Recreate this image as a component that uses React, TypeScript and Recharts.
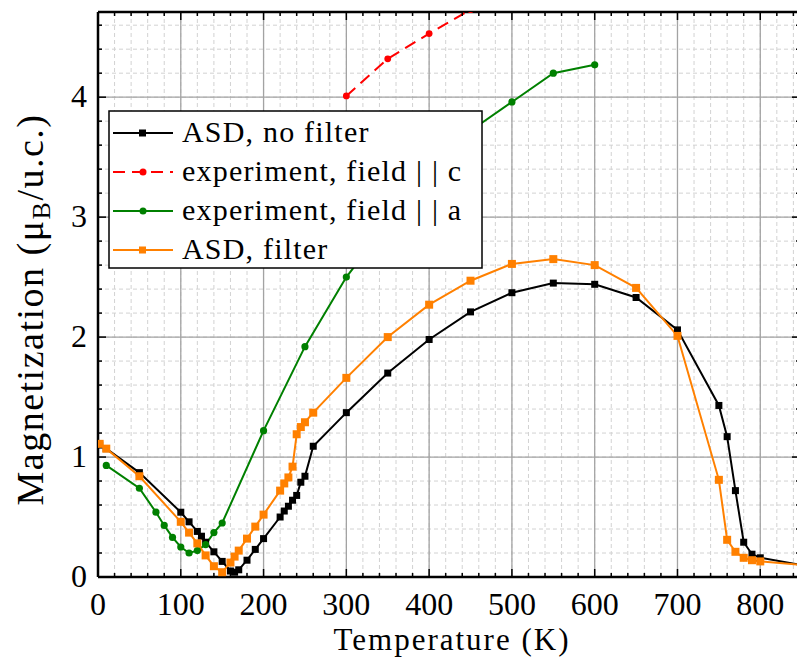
import { CartesianGrid, Line, LineChart, ReferenceLine, XAxis, YAxis } from "recharts";

// temperature (K) and magnetization (μB / u.c.) per series
const asdNoFilterT = [2, 10, 50, 100, 110, 120, 125, 130, 140, 150, 160, 165, 170, 180, 190, 200, 220, 225, 230, 235, 240, 245, 250, 260, 300, 350, 400, 450, 500, 550, 600, 650, 700, 750, 760, 770, 780, 790, 800, 850];
const asdNoFilterM = [1.1, 1.07, 0.87, 0.54, 0.46, 0.38, 0.34, 0.29, 0.21, 0.13, 0.05, 0.04, 0.06, 0.14, 0.23, 0.32, 0.5, 0.55, 0.59, 0.64, 0.68, 0.79, 0.84, 1.09, 1.37, 1.7, 1.98, 2.21, 2.37, 2.45, 2.44, 2.33, 2.06, 1.43, 1.17, 0.72, 0.29, 0.19, 0.16, 0.1];

const expCT = [300, 350, 400, 450];
const expCM = [4.01, 4.32, 4.53, 4.73];

const expAT = [10, 50, 70, 80, 90, 100, 110, 120, 130, 140, 150, 200, 250, 300, 350, 400, 450, 500, 550, 600];
const expAM = [0.93, 0.74, 0.54, 0.43, 0.33, 0.25, 0.2, 0.22, 0.27, 0.37, 0.45, 1.22, 1.92, 2.5, 2.95, 3.38, 3.72, 3.96, 4.2, 4.27];

const asdFilterT = [2, 10, 50, 100, 110, 120, 130, 140, 150, 160, 165, 170, 180, 190, 200, 220, 225, 230, 235, 240, 245, 250, 260, 300, 350, 400, 450, 500, 550, 600, 650, 700, 750, 760, 770, 780, 790, 800, 850];
const asdFilterM = [1.11, 1.07, 0.84, 0.46, 0.37, 0.28, 0.18, 0.09, 0.04, 0.12, 0.17, 0.22, 0.32, 0.42, 0.52, 0.72, 0.78, 0.83, 0.92, 1.19, 1.25, 1.29, 1.37, 1.66, 2.0, 2.27, 2.47, 2.61, 2.65, 2.6, 2.41, 2.01, 0.81, 0.31, 0.21, 0.16, 0.14, 0.13, 0.1];

const xTicks = [0, 100, 200, 300, 400, 500, 600, 700, 800];
const yTicks = [0, 1, 2, 3, 4];
const seriesNames = ["ASD, no filter", "experiment, field | | c", "experiment, field | | a", "ASD, filter"];

const X_MAX = 848;
const Y_MAX = 4.71;

const steps = (step: number, max: number) => {
  const out: number[] = [];
  for (let i = 0; i * step <= max + 1e-9; i++) out.push(+(i * step).toFixed(3));
  return out;
};
const xMinor = steps(20, X_MAX);
const yMinor = steps(0.2, Y_MAX);
const onStep = (v: number, step: number) => Math.abs(v / step - Math.round(v / step)) < 1e-6;

const pts = (t: number[], m: number[]) => t.map((v, i) => ({ t: v, m: m[i] }));

const SERIF = "Liberation Serif, serif";
const BLACK = "#000000";
const RED = "#ff0000";
const GREEN = "#008000";
const ORANGE = "#ff8000";

// layout
const CHART_W = 820;
const CHART_H = 668;
const MARGIN = { top: 12, right: 20, bottom: 31, left: 38 };
const PLOT_TOP = MARGIN.top;
const PLOT_RIGHT = CHART_W - MARGIN.right;
const TICK_SIZE = 6;
const TICK_MARGIN = 4;

const square = (size: number, fill: string) => (p: any) =>
  p.cx == null ? <g key={p.index} /> : (
    <rect key={p.index} x={p.cx - size / 2} y={p.cy - size / 2} width={size} height={size} fill={fill} />
  );
const circle = (r: number, fill: string) => (p: any) =>
  p.cx == null ? <g key={p.index} /> : <circle key={p.index} cx={p.cx} cy={p.cy} r={r} fill={fill} />;

// ticks drawn inward on all four sides, labels only on major values
const XTick = (p: any) => {
  const v = p.payload.value;
  const major = onStep(v, 100);
  const len = major ? 8 : 4;
  const axisY = p.y - TICK_SIZE - TICK_MARGIN;
  return (
    <g>
      <line x1={p.x} x2={p.x} y1={axisY} y2={axisY - len} stroke="#000" strokeWidth={1.5} />
      <line x1={p.x} x2={p.x} y1={PLOT_TOP} y2={PLOT_TOP + len} stroke="#000" strokeWidth={1.5} />
      {major && (
        <text x={p.x} y={axisY + 38} textAnchor="middle" fontFamily={SERIF} fontSize={32} fill="#000">
          {v}
        </text>
      )}
    </g>
  );
};

const YTick = (p: any) => {
  const v = p.payload.value;
  const major = onStep(v, 1);
  const len = major ? 8 : 4;
  const axisX = p.x + TICK_SIZE + TICK_MARGIN;
  return (
    <g>
      <line x1={axisX} x2={axisX + len} y1={p.y} y2={p.y} stroke="#000" strokeWidth={1.5} />
      <line x1={PLOT_RIGHT} x2={PLOT_RIGHT - len} y1={p.y} y2={p.y} stroke="#000" strokeWidth={1.5} />
      {major && (
        <text x={axisX - 11} y={p.y + 9.5} textAnchor="end" fontFamily={SERIF} fontSize={32} fill="#000">
          {v}
        </text>
      )}
    </g>
  );
};

const XTitle = (props: any) => {
  const { x, y, width } = props.viewBox;
  return (
    <text x={x + width / 2 + 3} y={y + 73} textAnchor="middle" fontFamily={SERIF} fontSize={31} letterSpacing={2} fill="#000">
      Temperature (K)
    </text>
  );
};

const YTitle = (props: any) => {
  const { x, y, height } = props.viewBox;
  const cx = x + 5;
  const cy = y + height / 2 + 15;
  return (
    <text x={cx} y={cy} transform={`rotate(-90 ${cx} ${cy})`} textAnchor="middle" fontFamily={SERIF} fontSize={38} letterSpacing={1.5} fill="#000">
      Magnetization (μ<tspan dy={7} fontSize={26}>B</tspan><tspan dy={-7}>/u.c.)</tspan>
    </text>
  );
};

const legendRows = [
  { name: seriesNames[0], color: BLACK, dash: undefined, marker: "square" },
  { name: seriesNames[1], color: RED, dash: "12 7", marker: "circle" },
  { name: seriesNames[2], color: GREEN, dash: undefined, marker: "circle" },
  { name: seriesNames[3], color: ORANGE, dash: undefined, marker: "square" },
];

function ChartLegend() {
  return (
    <svg width={375} height={159} style={{ position: "absolute", left: 108, top: 110 }}>
      <rect x={1} y={1} width={373} height={157} fill="#fff" stroke="#000" strokeWidth={1.5} />
      {legendRows.map((r, i) => {
        const ly = 23 + i * 39;
        return (
          <g key={r.name}>
            <line x1={5} x2={65} y1={ly} y2={ly} stroke={r.color} strokeWidth={2} strokeDasharray={r.dash} />
            {r.marker === "square" ? (
              <rect x={31} y={ly - 3.5} width={7} height={7} fill={r.color} />
            ) : (
              <circle cx={35} cy={ly} r={3.5} fill={r.color} />
            )}
            <text x={74} y={ly + 9} fontFamily={SERIF} fontSize={30} letterSpacing={1.2} fill="#000">
              {r.name}
            </text>
          </g>
        );
      })}
    </svg>
  );
}

const frame = { stroke: "#000", strokeWidth: 2.5 };

export default function App() {
  return (
    <div style={{ position: "absolute", left: 0, top: 0, width: 797, height: 668, overflow: "hidden", background: "#fff" }}>
      <LineChart width={CHART_W} height={CHART_H} margin={MARGIN}>
        <CartesianGrid xAxisId="x" yAxisId="y" stroke="#d2d2d2" strokeDasharray="4 3" />
        <CartesianGrid xAxisId="x" yAxisId="y" verticalValues={xTicks} horizontalValues={yTicks} stroke="#a3a3a3" strokeWidth={1.3} />

        <XAxis xAxisId="x" type="number" dataKey="t" domain={[0, X_MAX]} allowDataOverflow ticks={xMinor} interval={0}
          tickLine={false} tickSize={TICK_SIZE} tickMargin={TICK_MARGIN} axisLine={frame} height={60} tick={<XTick />} label={<XTitle />} />
        <YAxis yAxisId="y" type="number" domain={[0, Y_MAX]} allowDataOverflow ticks={yMinor} interval={0}
          tickLine={false} tickSize={TICK_SIZE} tickMargin={TICK_MARGIN} axisLine={frame} width={60} tick={<YTick />} label={<YTitle />} />

        <ReferenceLine xAxisId="x" yAxisId="y" y={Y_MAX} stroke="#000" strokeWidth={2.5} />
        <ReferenceLine xAxisId="x" yAxisId="y" x={X_MAX} stroke="#000" strokeWidth={2.5} />

        <Line xAxisId="x" yAxisId="y" data={pts(asdNoFilterT, asdNoFilterM)} dataKey="m" name={seriesNames[0]}
          type="linear" stroke={BLACK} strokeWidth={2} dot={square(7, BLACK)} activeDot={false} isAnimationActive={false} />
        <Line xAxisId="x" yAxisId="y" data={pts(expCT, expCM)} dataKey="m" name={seriesNames[1]}
          type="linear" stroke={RED} strokeWidth={2} strokeDasharray="12 7" dot={circle(3.4, RED)} activeDot={false} isAnimationActive={false} />
        <Line xAxisId="x" yAxisId="y" data={pts(expAT, expAM)} dataKey="m" name={seriesNames[2]}
          type="linear" stroke={GREEN} strokeWidth={2} dot={circle(3.6, GREEN)} activeDot={false} isAnimationActive={false} />
        <Line xAxisId="x" yAxisId="y" data={pts(asdFilterT, asdFilterM)} dataKey="m" name={seriesNames[3]}
          type="linear" stroke={ORANGE} strokeWidth={2} dot={square(8, ORANGE)} activeDot={false} isAnimationActive={false} />
      </LineChart>
      <ChartLegend />
    </div>
  );
}
